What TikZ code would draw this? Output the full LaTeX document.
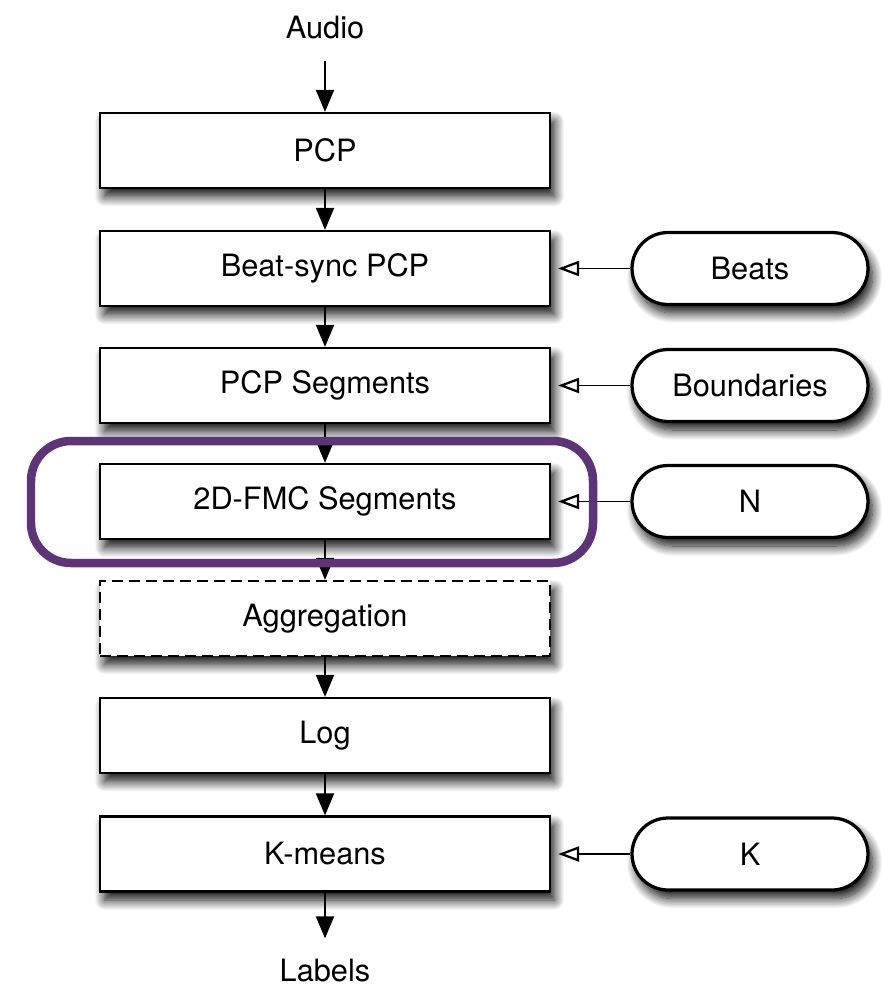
\documentclass[tikz,border=0pt]{standalone}
\usepackage{fontspec}
\setmainfont{TeX Gyre Heros}
\usetikzlibrary{arrows.meta,shadows.blur}
\definecolor{hilite}{HTML}{5E3479}
\begin{document}
\begin{tikzpicture}[x=0.02cm,y=-0.02cm,
  font=\fontsize{17.5pt}{20pt}\selectfont,
  shade/.style={blur shadow={shadow xshift=0.09cm,shadow yshift=-0.17cm,
      shadow blur radius=0.2cm,shadow opacity=95,shadow blur steps=14}},
  stagebox/.style={draw=black,line width=0.045cm,fill=white,rectangle,
      minimum width=9cm,minimum height=1.5cm,inner sep=0pt,shade},
  optbox/.style={stagebox,dashed,dash pattern=on 0.22cm off 0.12cm},
  param/.style={draw=black,line width=0.065cm,fill=white,rectangle,
      rounded corners=0.72cm,minimum width=4.72cm,minimum height=1.44cm,
      inner sep=0pt,shade},
  flow/.style={line width=0.04cm,-{Triangle[width=0.36cm,length=0.44cm]}},
  feed/.style={line width=0.035cm,-{Triangle[open,width=0.3cm,length=0.42cm,line width=0.045cm]},
      shorten >=0.14cm}]
  \useasboundingbox (0,0) rectangle (888,990);

  % processing chain
  \node (audio) at (325,28) {Audio};
  \node[stagebox] (pcp)  at (325,150.5) {PCP};
  \node[stagebox] (beat) at (325,268.5) {Beat-sync PCP};
  \node[stagebox] (seg)  at (325,385.5) {PCP Segments};
  \node[stagebox] (fmc)  at (325,501.5) {2D-FMC Segments};
  \node[optbox]   (agg)  at (325,618.5) {Aggregation};
  \node[stagebox] (log)  at (325,735.5) {Log};
  \node[stagebox] (km)   at (325,854)   {K-means};
  \node (labels) at (325,971) {Labels};

  % parameters
  \node[param] (beats) at (750,268.5) {Beats};
  \node[param] (bnd)   at (750,385.5) {Boundaries};
  \node[param] (nn)    at (750,501.5) {N};
  \node[param] (kk)    at (750,854)   {K};

  % data flow
  \draw[flow,shorten <=0.3cm] (audio.south) -- (pcp.north);
  \draw[flow] (pcp) -- (beat);
  \draw[flow] (beat) -- (seg);
  \draw[flow] (seg) -- (fmc);
  \draw[flow] (fmc) -- (agg);
  \draw[flow] (agg) -- (log);
  \draw[flow] (log) -- (km);
  \draw[flow,shorten >=0.3cm] (km.south) -- (labels.north);

  % parameter inputs
  \draw[feed] (beats.west) -- (beat.east);
  \draw[feed] (bnd.west) -- (seg.east);
  \draw[feed] (nn.west) -- (fmc.east);
  \draw[feed] (kk.west) -- (km.east);

  % highlight around the 2D-FMC stage
  \draw[hilite,line width=0.17cm,rounded corners=0.8cm] (31,441) rectangle (593,563);
\end{tikzpicture}
\end{document}
